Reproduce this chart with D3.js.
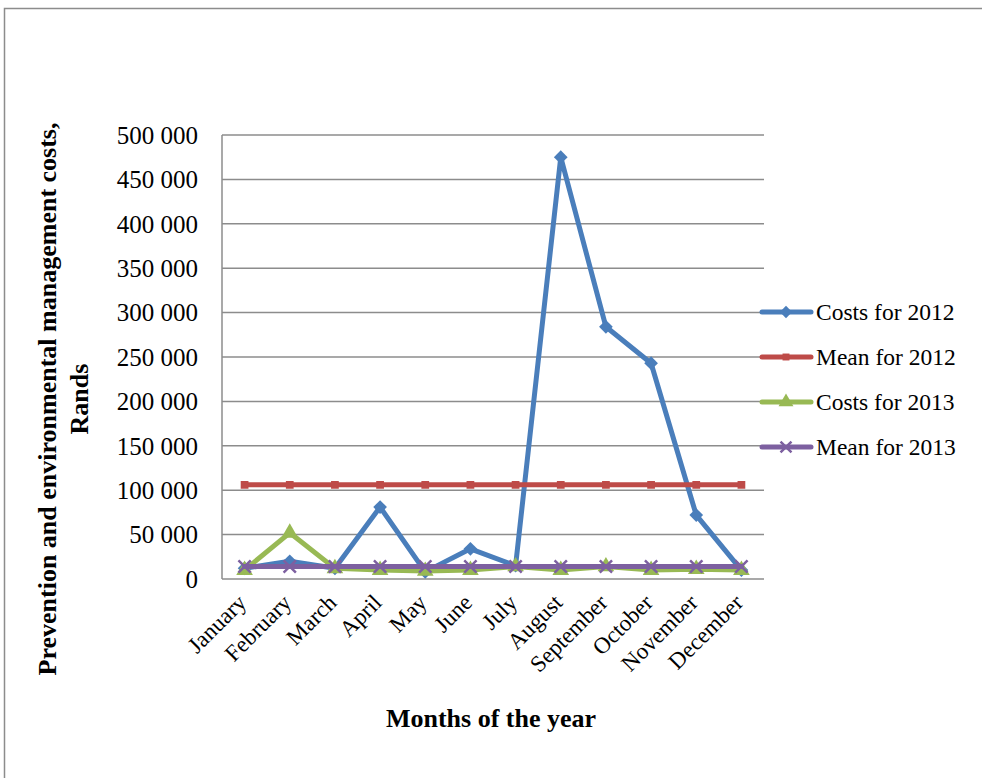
<!DOCTYPE html>
<html>
<head>
<meta charset="utf-8">
<script src="https://cdn.jsdelivr.net/npm/d3@7.9.0/dist/d3.min.js"></script>
<style>
  body { margin: 0; background: #fff; }
  svg { display: block; font-family: "Liberation Serif", "Times New Roman", serif; }
</style>
</head>
<body>
<svg id="chart" width="982" height="778"></svg>
<script>
const months = ["January", "February", "March", "April", "May", "June", "July",
  "August", "September", "October", "November", "December"];
const costs2012 = [12000, 20000, 12000, 81000, 8000, 34000, 15000, 475000, 284000, 243000, 72000, 10000];
const mean2012 = [106000, 106000, 106000, 106000, 106000, 106000, 106000, 106000, 106000, 106000, 106000, 106000];
const costs2013 = [10000, 52000, 12000, 10000, 9000, 10000, 14000, 10000, 14000, 10000, 11000, 10000];
const mean2013 = [14000, 14000, 14000, 14000, 14000, 14000, 14000, 14000, 14000, 14000, 14000, 14000];
const yTicks = [0, 50000, 100000, 150000, 200000, 250000, 300000, 350000, 400000, 450000, 500000];

const series = [
  { name: "Costs for 2012", values: costs2012, color: "#4a7ebb", marker: "diamond" },
  { name: "Mean for 2012", values: mean2012, color: "#be4b48", marker: "square" },
  { name: "Costs for 2013", values: costs2013, color: "#98b954", marker: "triangle" },
  { name: "Mean for 2013", values: mean2013, color: "#7d60a0", marker: "x" }
];

const svg = d3.select("#chart");
const plotLeft = 222, plotRight = 764, plotTop = 135, plotBottom = 579;

// outer frame
svg.append("rect").attr("x", 4.5).attr("y", 8.5).attr("width", 1000).attr("height", 800)
  .attr("fill", "none").attr("stroke", "#8c8c8c").attr("stroke-width", 1.5);

const x = d3.scaleBand().domain(months).range([plotLeft, plotRight]);
const y = d3.scaleLinear().domain([0, 500000]).range([plotBottom, plotTop]);
const fmt = v => d3.format(",")(v).replace(/,/g, " ");

// gridlines
svg.append("g").selectAll("line").data(yTicks).join("line")
  .attr("x1", plotLeft).attr("x2", plotRight)
  .attr("y1", d => y(d)).attr("y2", d => y(d))
  .attr("stroke", "#8c8c8c").attr("stroke-width", 1.5);

svg.append("line").attr("x1", plotLeft).attr("x2", plotLeft).attr("y1", plotTop).attr("y2", plotBottom)
  .attr("stroke", "#8c8c8c").attr("stroke-width", 1.5);

// y tick labels
svg.append("g").selectAll("text").data(yTicks).join("text")
  .attr("x", 198).attr("y", d => y(d)).attr("dy", "0.35em")
  .attr("text-anchor", "end").attr("font-size", 25)
  .text(d => fmt(d));

// x labels
svg.append("g").selectAll("text").data(months).join("text")
  .attr("transform", d => `translate(${x(d) + x.bandwidth() / 2 + 3},${plotBottom + 25}) rotate(-45)`)
  .attr("text-anchor", "end").attr("font-size", 23)
  .text(d => d);

// axis titles
svg.append("text").attr("x", 491).attr("y", 727).attr("text-anchor", "middle")
  .attr("font-size", 26).attr("font-weight", "bold").text("Months of the year");

const yt = svg.append("text").attr("transform", "translate(56,399) rotate(-90)")
  .attr("text-anchor", "middle").attr("font-size", 26).attr("font-weight", "bold");
yt.append("tspan").attr("x", 0).attr("dy", 0).text("Prevention and environmental management costs,");
yt.append("tspan").attr("x", 0).attr("dy", 32).text("Rands");

function marker(g, type, color, size) {
  if (type === "diamond") {
    g.append("path").attr("d", d3.symbol(d3.symbolDiamond2, size * 12)).attr("fill", color);
  } else if (type === "square") {
    g.append("path").attr("d", d3.symbol(d3.symbolSquare, size * 6)).attr("fill", color);
  } else if (type === "triangle") {
    g.append("path").attr("d", d3.symbol(d3.symbolTriangle, size * 12)).attr("fill", color);
  } else {
    g.append("path").attr("d", d3.symbol(d3.symbolX, size * 10)).attr("stroke", color).attr("stroke-width", 2.5).attr("fill", "none");
  }
}

const line = d3.line().x((d, i) => x(months[i]) + x.bandwidth() / 2).y(d => y(d));

series.forEach(s => {
  const g = svg.append("g");
  g.append("path").datum(s.values).attr("d", line)
    .attr("fill", "none").attr("stroke", s.color).attr("stroke-width", 5)
    .attr("stroke-linejoin", "round").attr("stroke-linecap", "round");
  s.values.forEach((v, i) => {
    const m = g.append("g").attr("transform", `translate(${x(months[i]) + x.bandwidth() / 2},${y(v)})`);
    marker(m, s.marker, s.color, 10);
  });
});

// legend
const legend = svg.append("g");
series.forEach((s, i) => {
  const ly = 312 + i * 45;
  legend.append("line").attr("x1", 762).attr("x2", 811).attr("y1", ly).attr("y2", ly)
    .attr("stroke", s.color).attr("stroke-width", 5).attr("stroke-linecap", "round");
  const m = legend.append("g").attr("transform", `translate(786,${ly})`);
  marker(m, s.marker, s.color, 8);
  legend.append("text").attr("x", 816).attr("y", ly).attr("dy", "0.35em")
    .attr("font-size", 23.5).text(s.name);
});
</script>
</body>
</html>
